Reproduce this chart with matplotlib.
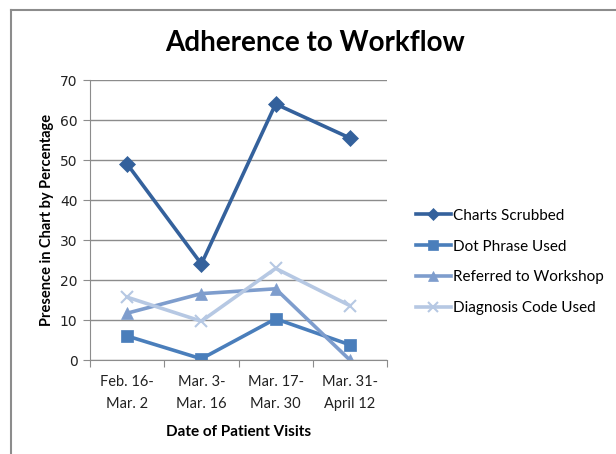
import matplotlib
matplotlib.use('Agg')
import matplotlib.pyplot as plt
from matplotlib.lines import Line2D

# data
periods = ['Feb. 16-\nMar. 2', 'Mar. 3-\nMar. 16', 'Mar. 17-\nMar. 30', 'Mar. 31-\nApril 12']
charts_scrubbed = [49, 24, 64, 55.5]
dot_phrase = [6, 0.3, 10.3, 3.8]
referred = [11.7, 16.6, 17.8, 0]
diagnosis_code = [15.7, 9.7, 22.9, 13.6]

series = [
    ('Charts Scrubbed', charts_scrubbed, '#34619C', 'D', 8),
    ('Dot Phrase Used', dot_phrase, '#4A7EBB', 's', 9),
    ('Referred to Workshop', referred, '#7E9DCD', '^', 9),
    ('Diagnosis Code Used', diagnosis_code, '#B6C8E3', 'x', 9),
]

W, H = 616, 454
fig = plt.figure(figsize=(W / 100, H / 100), dpi=100)
ax = fig.add_axes([90 / W, 94 / H, 297 / W, 280 / H])

x = list(range(len(periods)))
for name, vals, color, mk, ms in series:
    ax.plot(x, vals, color=color, lw=2.6, marker=mk, markersize=ms,
            markeredgewidth=1.5 if mk == 'x' else 0.5, markeredgecolor=color,
            label=name)

ax.set_xlim(-0.5, 3.5)
ax.set_ylim(0, 70)
ax.set_yticks(range(0, 71, 10))
ax.yaxis.grid(True, color='#8c8c8c', lw=1)
ax.set_axisbelow(True)

# Excel-like ticks: marks between categories, labels centred
ax.set_xticks([-0.5, 0.5, 1.5, 2.5, 3.5])
ax.set_xticklabels([])
ax.set_xticks(x, minor=True)
ax.set_xticklabels(periods, minor=True, fontfamily='Lato', fontsize=10.5,
                   color='#222222', linespacing=1.7)
ax.tick_params(axis='x', which='minor', length=0, pad=11)
ax.tick_params(axis='x', which='major', length=5, color='#8c8c8c', direction='out')
ax.tick_params(axis='y', length=5, color='#8c8c8c', labelsize=10, pad=4,
               labelcolor='#222222')

for s in ['top', 'right']:
    ax.spines[s].set_visible(False)
for s in ['left', 'bottom']:
    ax.spines[s].set_color('#8c8c8c')

ax.set_xlabel('Date of Patient Visits', fontfamily='Lato', fontweight='bold',
              fontsize=11, labelpad=10)
ax.set_ylabel('Presence in Chart by Percentage', fontfamily='Lato',
              fontweight='bold', fontsize=10.5, labelpad=4)

fig.text(315 / W, 1 - 43 / H, 'Adherence to Workflow', ha='center', va='center',
         fontfamily='Lato', fontweight='bold', fontsize=20)

fig.legend(loc='center left', bbox_to_anchor=(402 / W, 1 - 262 / H),
           frameon=False, prop={'family': 'Lato', 'size': 11}, markerscale=0.75,
           handlelength=2.3, handletextpad=0.15, labelspacing=1.1)

# chart area border (left and top edges visible)
fig.add_artist(Line2D([11 / W, 11 / W], [0, 1 - 10 / H], color='#8c8c8c', lw=1.5,
                      transform=fig.transFigure))
fig.add_artist(Line2D([11 / W, 1], [1 - 10 / H, 1 - 10 / H], color='#8c8c8c', lw=1.5,
                      transform=fig.transFigure))

fig.savefig('out.png', dpi=100)
